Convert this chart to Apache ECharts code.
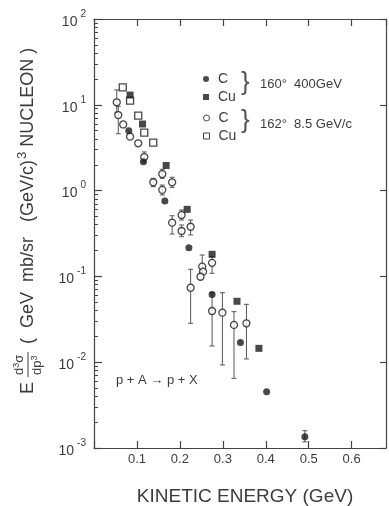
<!DOCTYPE html>
<html><head><meta charset="utf-8">
<script src="https://cdn.jsdelivr.net/npm/echarts@6/dist/echarts.min.js"></script>
<style>html,body{margin:0;padding:0;background:#fff;}#c{width:389px;height:506px;}</style>
</head><body><div id="c"></div>
<script>
// ---- data (kinetic energy GeV, invariant cross section) ----
const xTickLabels = [0.1, 0.2, 0.3, 0.4, 0.5, 0.6];
const yDecades = [0.001, 0.01, 0.1, 1, 10, 100];
// C, 160 deg, 400 GeV (filled circles)
const c400 = [[0.081,4.99],[0.115,2.17],[0.165,0.757],[0.221,0.216],[0.275,0.0615],[0.341,0.017],[0.402,0.00453],[0.491,0.00135]];
const c400Err = [[0.491,0.00118,0.00159]];
// Cu, 160 deg, 400 GeV (filled squares)
const cu400 = [[0.084,13.0],[0.113,5.97],[0.168,1.96],[0.217,0.605],[0.275,0.181],[0.333,0.0513],[0.384,0.0145]];
// C, 162 deg, 8.5 GeV/c (open circles)
const c85 = [[0.053,10.7],[0.0565,7.6],[0.068,5.9],[0.084,4.25],[0.103,3.56],[0.117,2.46],[0.159,1.56],[0.138,1.25],[0.182,1.25],[0.159,1.02],[0.204,0.52],[0.182,0.423],[0.204,0.338],[0.225,0.379],[0.275,0.144],[0.252,0.130],[0.254,0.1135],[0.248,0.099],[0.225,0.0738],[0.275,0.0395],[0.299,0.0378],[0.326,0.0272],[0.355,0.0284]];
const c85Err = [[0.053,8.2,14.9],[0.0565,4.6,9.6],[0.117,2.15,2.82],[0.159,1.39,1.77],[0.138,1.11,1.39],[0.182,1.09,1.43],[0.159,0.889,1.16],[0.204,0.454,0.594],[0.182,0.312,0.509],[0.204,0.290,0.397],[0.225,0.304,0.454],[0.275,0.1087,0.170],[0.252,0.11,0.1775],[0.225,0.0284,0.121],[0.275,0.01545,0.0646],[0.299,0.00928,0.0646],[0.326,0.00649,0.0388],[0.355,0.0109,0.0473]];
// Cu, 162 deg, 8.5 GeV/c (open squares)
const cu85 = [[0.067,16.0],[0.084,11.2],[0.103,7.46],[0.117,4.73],[0.138,3.62]];

const minorTicks = [];
for (let i = 0; i < yDecades.length - 1; i++) for (let k = 2; k <= 9; k++) minorTicks.push(yDecades[i] * k);

const INK = '#1a1a1a', TXT = '#3c3c3c', AX = '#444';
const FONT = 'Liberation Sans';

function errSeries(data) {
  return {
    type: 'custom', data: data, z: 1, silent: true,
    encode: { x: 0, y: [1, 2] },
    renderItem(params, api) {
      const x = api.value(0), lo = api.value(1), hi = api.value(2);
      const a = api.coord([x, hi]), b = api.coord([x, lo]);
      const c = 2.5, st = { stroke: '#555', lineWidth: 1 };
      return { type: 'group', children: [
        { type: 'line', shape: { x1: a[0], y1: a[1], x2: b[0], y2: b[1] }, style: st },
        { type: 'line', shape: { x1: a[0] - c, y1: a[1], x2: a[0] + c, y2: a[1] }, style: st },
        { type: 'line', shape: { x1: b[0] - c, y1: b[1], x2: b[0] + c, y2: b[1] }, style: st }
      ]};
    }
  };
}

const chart = echarts.init(document.getElementById('c'), null, { renderer: 'canvas' });
const yLog = { type: 'log', logBase: 10, min: 0.001, max: 100, splitLine: { show: false } };
const xLin = { type: 'value', min: 0, max: 0.68, interval: 0.1, splitLine: { show: false } };

chart.setOption({
  backgroundColor: '#fff',
  animation: false,
  textStyle: { fontFamily: FONT },
  grid: { left: 94, right: 3, top: 19, bottom: 58, containLabel: false, outerBoundsMode: 'none' },
  xAxis: [
    Object.assign({}, xLin, {
      position: 'bottom',
      axisLine: { lineStyle: { color: AX, width: 1.2 } },
      axisTick: { inside: true, length: 7, lineStyle: { color: AX, width: 1.2 } },
      axisLabel: { color: TXT, fontSize: 13, margin: 5, fontFamily: FONT, showMaxLabel: false,
        formatter: v => xTickLabels.includes(+(+v).toFixed(2)) ? (+v).toFixed(1) : '' },
      name: 'KINETIC ENERGY (GeV)', nameLocation: 'middle', nameGap: 39,
      nameTextStyle: { color: TXT, fontSize: 19, fontFamily: FONT, padding: [0, 0, 0, 10] }
    }),
    Object.assign({}, xLin, {
      position: 'top',
      axisLine: { lineStyle: { color: AX, width: 1.2 } },
      axisTick: { inside: true, length: 7, lineStyle: { color: AX, width: 1.2 } },
      axisLabel: { show: false }
    })
  ],
  yAxis: [
    Object.assign({}, yLog, {
      position: 'left',
      axisLine: { lineStyle: { color: AX, width: 1.2 } },
      axisTick: { inside: true, length: 8, lineStyle: { color: AX, width: 1.2 } },
      axisLabel: { color: TXT, margin: 8, fontFamily: FONT,
        formatter: v => { const e = Math.round(Math.log10(v)); return '{b|10}{s|' + e + '}'; },
        rich: { b: { fontSize: 14, lineHeight: 20, verticalAlign: 'bottom', color: TXT, fontFamily: FONT },
                s: { fontSize: 10, lineHeight: 20, verticalAlign: 'top', color: TXT, fontFamily: FONT, padding: [0, 0, 0, 3] } } }
    }),
    Object.assign({}, yLog, {
      position: 'left',
      axisLine: { show: false },
      axisTick: { inside: true, length: 4, customValues: minorTicks, lineStyle: { color: AX, width: 1 } },
      axisLabel: { show: false }
    }),
    Object.assign({}, yLog, {
      position: 'right',
      axisLine: { lineStyle: { color: AX, width: 1.2 } },
      axisTick: { inside: true, length: 6, lineStyle: { color: AX, width: 1.2 } },
      axisLabel: { show: false }
    })
  ],
  legend: [
    { data: ['C 400GeV', 'Cu 400GeV'], orient: 'vertical', left: 198, top: 67, itemWidth: 6, itemHeight: 6, itemGap: 4,
      formatter: n => n.split(' ')[0], textStyle: { color: TXT, fontSize: 14, fontFamily: FONT, padding: [0, 0, 0, 4] }, selectedMode: false },
    { data: ['C 8.5GeV/c', 'Cu 8.5GeV/c'], orient: 'vertical', left: 198, top: 106, itemWidth: 6, itemHeight: 6, itemGap: 4,
      formatter: n => n.split(' ')[0], textStyle: { color: TXT, fontSize: 14, fontFamily: FONT, padding: [0, 0, 0, 4] }, selectedMode: false,
      itemStyle: { borderWidth: 1 } }
  ],
  series: [
    Object.assign(errSeries(c85Err), { xAxisIndex: 0, yAxisIndex: 0 }),
    Object.assign(errSeries(c400Err), { xAxisIndex: 0, yAxisIndex: 0 }),
    { name: 'C 8.5GeV/c', type: 'scatter', data: c85, symbol: 'circle', symbolSize: 7, z: 3,
      itemStyle: { color: '#fff', borderColor: INK, borderWidth: 1.3 } },
    { name: 'Cu 8.5GeV/c', type: 'scatter', data: cu85, symbol: 'rect', symbolSize: 7, z: 3,
      itemStyle: { color: '#fff', borderColor: INK, borderWidth: 1.3 } },
    { name: 'C 400GeV', type: 'scatter', data: c400, symbol: 'circle', symbolSize: 7, z: 4,
      itemStyle: { color: INK } },
    { name: 'Cu 400GeV', type: 'scatter', data: cu400, symbol: 'rect', symbolSize: 7, z: 4,
      itemStyle: { color: INK } }
  ],
  graphic: [
    { type: 'text', left: 241, top: 70, style: { text: '}', fontSize: 26, fill: '#555', fontFamily: 'Liberation Sans' } },
    { type: 'text', left: 260, top: 78, style: { text: '160°  400GeV', fontSize: 13, fill: TXT, fontFamily: FONT } },
    { type: 'text', left: 241, top: 108, style: { text: '}', fontSize: 26, fill: '#555', fontFamily: 'Liberation Sans' } },
    { type: 'text', left: 260, top: 118, style: { text: '162°  8.5 GeV/c', fontSize: 13, fill: TXT, fontFamily: FONT } },
    { type: 'text', left: 116, top: 374, style: { text: 'p + A → p + X', fontSize: 13, fill: TXT, fontFamily: FONT } },
    { type: 'group', x: 28, y: 394, rotation: Math.PI / 2, children: [
      { type: 'text', x: 0, y: 0, style: { text: 'E', fontSize: 18, fill: TXT, fontFamily: FONT, verticalAlign: 'middle' } },
      { type: 'text', x: 19, y: -9, style: { text: 'd{s|3}σ', fontSize: 13, fill: TXT, fontFamily: FONT, verticalAlign: 'middle',
        rich: { s: { fontSize: 9, verticalAlign: 'top', fill: TXT } } } },
      { type: 'line', shape: { x1: 17, y1: 0, x2: 42, y2: 0 }, style: { stroke: TXT, lineWidth: 1 } },
      { type: 'text', x: 19, y: 9, style: { text: 'dp{s|3}', fontSize: 13, fill: TXT, fontFamily: FONT, verticalAlign: 'middle',
        rich: { s: { fontSize: 9, verticalAlign: 'top', fill: TXT } } } },
      { type: 'text', x: 50, y: 0, style: { text: '(  GeV  mb/sr   (GeV/c){s|3} NUCLEON )', fontSize: 18, fill: TXT, fontFamily: FONT,
        verticalAlign: 'middle', rich: { s: { fontSize: 13, verticalAlign: 'top', padding: [0, 0, 12, 1], fill: TXT } } } }
    ]}
  ]
});
</script></body></html>
